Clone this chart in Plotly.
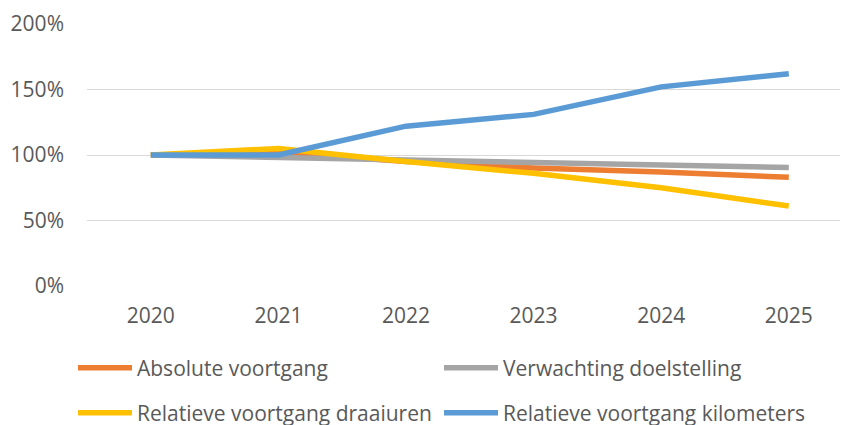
import plotly.graph_objects as go

years = ["2020", "2021", "2022", "2023", "2024", "2025"]
absolute = [100, 102, 95, 90, 87, 83]
verwachting = [100, 98, 96, 94, 92, 90.5]
draaiuren = [100, 105, 95, 86, 75, 61]
kilometers = [100, 100, 122, 131, 152, 162]

names = ["Absolute voortgang", "Verwachting doelstelling",
         "Relatieve voortgang draaiuren", "Relatieve voortgang kilometers"]
series = [absolute, verwachting, draaiuren, kilometers]
colors = ["#ED7D31", "#A5A5A5", "#FFC000", "#5B9BD5"]
legends = ["legend", "legend", "legend2", "legend2"]

FONT = "Open Sans"
TXT = "#595959"

fig = go.Figure()
for n, s, c, lg in zip(names, series, colors, legends):
    fig.add_trace(go.Scatter(
        x=years, y=[v / 100 for v in s], name=n, mode="lines",
        line=dict(color=c, width=5.5), legend=lg, hoverinfo="skip"))

legend_common = dict(
    orientation="h", xanchor="left", yanchor="middle",
    x=-0.0184, itemwidth=54, entrywidth=297, entrywidthmode="pixels",
    font=dict(family=FONT, size=21, color=TXT),
    bgcolor="rgba(0,0,0,0)", borderwidth=0, traceorder="normal",
    itemclick=False, itemdoubleclick=False,
)

# the page body has an 8px default margin, so the figure is 8px smaller
fig.update_layout(
    width=840, height=417,
    margin=dict(l=79, r=0, t=16, b=139, autoexpand=False),
    paper_bgcolor="white", plot_bgcolor="white",
    font=dict(family=FONT, size=21, color=TXT),
    showlegend=True,
    legend=dict(**legend_common, y=-0.313),
    legend2=dict(**legend_common, y=-0.485),
    xaxis=dict(type="category", range=[-0.5, 5.464], showgrid=False,
               showline=False, zeroline=False, ticks="",
               ticklabelstandoff=15, tickfont=dict(family=FONT, size=21, color=TXT)),
    yaxis=dict(range=[0, 2], tickvals=[0, 0.5, 1, 1.5, 2], tickformat=".0%",
               showgrid=True, gridcolor="#D9D9D9", gridwidth=1.3,
               zeroline=False, showline=False, ticks="",
               ticklabelstandoff=22, tickfont=dict(family=FONT, size=21, color=TXT)),
)

fig.write_html("out.html")
